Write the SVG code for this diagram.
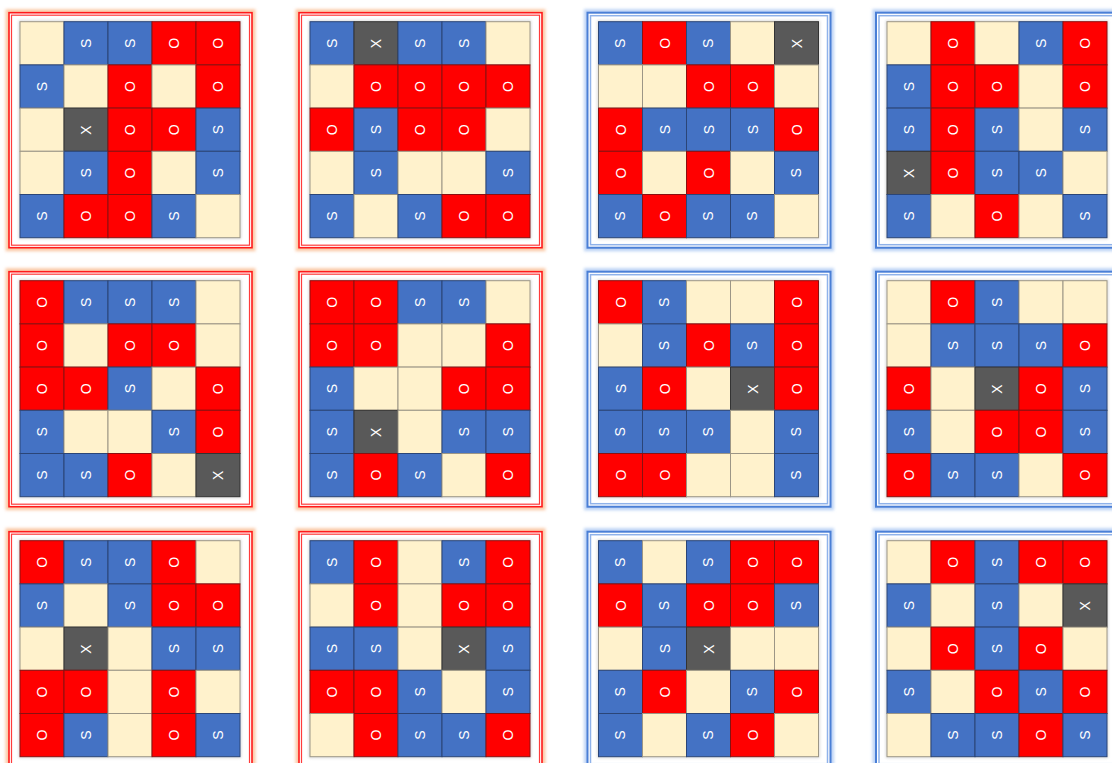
<svg xmlns="http://www.w3.org/2000/svg" width="1112" height="763" viewBox="0 0 1112 763">
<style>
.e{fill:#fff2cc;stroke:#9c9686;stroke-width:1}
.s{fill:#4472c4;stroke:#2b4577;stroke-width:1}
.o{fill:#ff0000;stroke:#8a1010;stroke-width:1}
.x{fill:#595959;stroke:#333;stroke-width:1}
.t{font-family:"Liberation Sans",Arial,sans-serif;font-size:14px;fill:#fff;text-anchor:middle;dominant-baseline:central;transform-box:fill-box;transform-origin:center;transform:rotate(-90deg)}
.glowR{fill:none;stroke:#fbc9a6;stroke-width:7;filter:url(#blur)}
.glowB{fill:none;stroke:#bcd3f5;stroke-width:7;filter:url(#blur)}
.fr1{fill:#fff;stroke:#ff1a1a;stroke-width:1.6}
.fr2{fill:none;stroke:#ff3b3b;stroke-width:1.2}
.fb1{fill:#fff;stroke:#4a7fd6;stroke-width:2}
.fb2{fill:none;stroke:#8fb2ea;stroke-width:1.5}
.sh{fill:none;stroke:#ccc;stroke-width:2;filter:url(#blur)}
</style>
<defs>
<filter id="blur" x="-10%" y="-10%" width="120%" height="120%"><feGaussianBlur stdDeviation="1.8"/></filter>
</defs>
<rect width="1112" height="763" fill="#fff"/>
<g id="connectors"/>

<g id="board-1" transform="translate(20,21.7)">
<rect class="glowR" x="-11" y="-9" width="243" height="235"/><rect class="fr1" x="-11" y="-9" width="243" height="235"/><rect class="fr2" x="-8.5" y="-6.5" width="238" height="230"/><rect class="sh" x="0" y="0" width="220" height="216"/>
<rect class="e" x="0" y="0" width="44" height="43.2"/>
<rect class="s" x="44" y="0" width="44" height="43.2"/><text class="t" x="66" y="21.6">S</text>
<rect class="s" x="88" y="0" width="44" height="43.2"/><text class="t" x="110" y="21.6">S</text>
<rect class="o" x="132" y="0" width="44" height="43.2"/><text class="t" x="154" y="21.6">O</text>
<rect class="o" x="176" y="0" width="44" height="43.2"/><text class="t" x="198" y="21.6">O</text>
<rect class="s" x="0" y="43.2" width="44" height="43.2"/><text class="t" x="22" y="64.8">S</text>
<rect class="e" x="44" y="43.2" width="44" height="43.2"/>
<rect class="o" x="88" y="43.2" width="44" height="43.2"/><text class="t" x="110" y="64.8">O</text>
<rect class="e" x="132" y="43.2" width="44" height="43.2"/>
<rect class="o" x="176" y="43.2" width="44" height="43.2"/><text class="t" x="198" y="64.8">O</text>
<rect class="e" x="0" y="86.4" width="44" height="43.2"/>
<rect class="x" x="44" y="86.4" width="44" height="43.2"/><text class="t" x="66" y="108">X</text>
<rect class="o" x="88" y="86.4" width="44" height="43.2"/><text class="t" x="110" y="108">O</text>
<rect class="o" x="132" y="86.4" width="44" height="43.2"/><text class="t" x="154" y="108">O</text>
<rect class="s" x="176" y="86.4" width="44" height="43.2"/><text class="t" x="198" y="108">S</text>
<rect class="e" x="0" y="129.6" width="44" height="43.2"/>
<rect class="s" x="44" y="129.6" width="44" height="43.2"/><text class="t" x="66" y="151.2">S</text>
<rect class="o" x="88" y="129.6" width="44" height="43.2"/><text class="t" x="110" y="151.2">O</text>
<rect class="e" x="132" y="129.6" width="44" height="43.2"/>
<rect class="s" x="176" y="129.6" width="44" height="43.2"/><text class="t" x="198" y="151.2">S</text>
<rect class="s" x="0" y="172.8" width="44" height="43.2"/><text class="t" x="22" y="194.4">S</text>
<rect class="o" x="44" y="172.8" width="44" height="43.2"/><text class="t" x="66" y="194.4">O</text>
<rect class="o" x="88" y="172.8" width="44" height="43.2"/><text class="t" x="110" y="194.4">O</text>
<rect class="s" x="132" y="172.8" width="44" height="43.2"/><text class="t" x="154" y="194.4">S</text>
<rect class="e" x="176" y="172.8" width="44" height="43.2"/>
</g>

<g id="board-2" transform="translate(310,21.7)">
<rect class="glowR" x="-11" y="-9" width="243" height="235"/><rect class="fr1" x="-11" y="-9" width="243" height="235"/><rect class="fr2" x="-8.5" y="-6.5" width="238" height="230"/><rect class="sh" x="0" y="0" width="220" height="216"/>
<rect class="s" x="0" y="0" width="44" height="43.2"/><text class="t" x="22" y="21.6">S</text>
<rect class="x" x="44" y="0" width="44" height="43.2"/><text class="t" x="66" y="21.6">X</text>
<rect class="s" x="88" y="0" width="44" height="43.2"/><text class="t" x="110" y="21.6">S</text>
<rect class="s" x="132" y="0" width="44" height="43.2"/><text class="t" x="154" y="21.6">S</text>
<rect class="e" x="176" y="0" width="44" height="43.2"/>
<rect class="e" x="0" y="43.2" width="44" height="43.2"/>
<rect class="o" x="44" y="43.2" width="44" height="43.2"/><text class="t" x="66" y="64.8">O</text>
<rect class="o" x="88" y="43.2" width="44" height="43.2"/><text class="t" x="110" y="64.8">O</text>
<rect class="o" x="132" y="43.2" width="44" height="43.2"/><text class="t" x="154" y="64.8">O</text>
<rect class="o" x="176" y="43.2" width="44" height="43.2"/><text class="t" x="198" y="64.8">O</text>
<rect class="o" x="0" y="86.4" width="44" height="43.2"/><text class="t" x="22" y="108">O</text>
<rect class="s" x="44" y="86.4" width="44" height="43.2"/><text class="t" x="66" y="108">S</text>
<rect class="o" x="88" y="86.4" width="44" height="43.2"/><text class="t" x="110" y="108">O</text>
<rect class="o" x="132" y="86.4" width="44" height="43.2"/><text class="t" x="154" y="108">O</text>
<rect class="e" x="176" y="86.4" width="44" height="43.2"/>
<rect class="e" x="0" y="129.6" width="44" height="43.2"/>
<rect class="s" x="44" y="129.6" width="44" height="43.2"/><text class="t" x="66" y="151.2">S</text>
<rect class="e" x="88" y="129.6" width="44" height="43.2"/>
<rect class="e" x="132" y="129.6" width="44" height="43.2"/>
<rect class="s" x="176" y="129.6" width="44" height="43.2"/><text class="t" x="198" y="151.2">S</text>
<rect class="s" x="0" y="172.8" width="44" height="43.2"/><text class="t" x="22" y="194.4">S</text>
<rect class="e" x="44" y="172.8" width="44" height="43.2"/>
<rect class="s" x="88" y="172.8" width="44" height="43.2"/><text class="t" x="110" y="194.4">S</text>
<rect class="o" x="132" y="172.8" width="44" height="43.2"/><text class="t" x="154" y="194.4">O</text>
<rect class="o" x="176" y="172.8" width="44" height="43.2"/><text class="t" x="198" y="194.4">O</text>
</g>

<g id="board-3" transform="translate(598.5,21.7)">
<rect class="glowB" x="-11" y="-9" width="243" height="235"/><rect class="fb1" x="-11" y="-9" width="243" height="235"/><rect class="fb2" x="-8" y="-6" width="237" height="229"/><rect class="sh" x="0" y="0" width="220" height="216"/>
<rect class="s" x="0" y="0" width="44" height="43.2"/><text class="t" x="22" y="21.6">S</text>
<rect class="o" x="44" y="0" width="44" height="43.2"/><text class="t" x="66" y="21.6">O</text>
<rect class="s" x="88" y="0" width="44" height="43.2"/><text class="t" x="110" y="21.6">S</text>
<rect class="e" x="132" y="0" width="44" height="43.2"/>
<rect class="x" x="176" y="0" width="44" height="43.2"/><text class="t" x="198" y="21.6">X</text>
<rect class="e" x="0" y="43.2" width="44" height="43.2"/>
<rect class="e" x="44" y="43.2" width="44" height="43.2"/>
<rect class="o" x="88" y="43.2" width="44" height="43.2"/><text class="t" x="110" y="64.8">O</text>
<rect class="o" x="132" y="43.2" width="44" height="43.2"/><text class="t" x="154" y="64.8">O</text>
<rect class="e" x="176" y="43.2" width="44" height="43.2"/>
<rect class="o" x="0" y="86.4" width="44" height="43.2"/><text class="t" x="22" y="108">O</text>
<rect class="s" x="44" y="86.4" width="44" height="43.2"/><text class="t" x="66" y="108">S</text>
<rect class="s" x="88" y="86.4" width="44" height="43.2"/><text class="t" x="110" y="108">S</text>
<rect class="s" x="132" y="86.4" width="44" height="43.2"/><text class="t" x="154" y="108">S</text>
<rect class="o" x="176" y="86.4" width="44" height="43.2"/><text class="t" x="198" y="108">O</text>
<rect class="o" x="0" y="129.6" width="44" height="43.2"/><text class="t" x="22" y="151.2">O</text>
<rect class="e" x="44" y="129.6" width="44" height="43.2"/>
<rect class="o" x="88" y="129.6" width="44" height="43.2"/><text class="t" x="110" y="151.2">O</text>
<rect class="e" x="132" y="129.6" width="44" height="43.2"/>
<rect class="s" x="176" y="129.6" width="44" height="43.2"/><text class="t" x="198" y="151.2">S</text>
<rect class="s" x="0" y="172.8" width="44" height="43.2"/><text class="t" x="22" y="194.4">S</text>
<rect class="o" x="44" y="172.8" width="44" height="43.2"/><text class="t" x="66" y="194.4">O</text>
<rect class="s" x="88" y="172.8" width="44" height="43.2"/><text class="t" x="110" y="194.4">S</text>
<rect class="s" x="132" y="172.8" width="44" height="43.2"/><text class="t" x="154" y="194.4">S</text>
<rect class="e" x="176" y="172.8" width="44" height="43.2"/>
</g>

<g id="board-4" transform="translate(887,21.7)">
<rect class="glowB" x="-11" y="-9" width="243" height="235"/><rect class="fb1" x="-11" y="-9" width="243" height="235"/><rect class="fb2" x="-8" y="-6" width="237" height="229"/><rect class="sh" x="0" y="0" width="220" height="216"/>
<rect class="e" x="0" y="0" width="44" height="43.2"/>
<rect class="o" x="44" y="0" width="44" height="43.2"/><text class="t" x="66" y="21.6">O</text>
<rect class="e" x="88" y="0" width="44" height="43.2"/>
<rect class="s" x="132" y="0" width="44" height="43.2"/><text class="t" x="154" y="21.6">S</text>
<rect class="o" x="176" y="0" width="44" height="43.2"/><text class="t" x="198" y="21.6">O</text>
<rect class="s" x="0" y="43.2" width="44" height="43.2"/><text class="t" x="22" y="64.8">S</text>
<rect class="o" x="44" y="43.2" width="44" height="43.2"/><text class="t" x="66" y="64.8">O</text>
<rect class="o" x="88" y="43.2" width="44" height="43.2"/><text class="t" x="110" y="64.8">O</text>
<rect class="e" x="132" y="43.2" width="44" height="43.2"/>
<rect class="o" x="176" y="43.2" width="44" height="43.2"/><text class="t" x="198" y="64.8">O</text>
<rect class="s" x="0" y="86.4" width="44" height="43.2"/><text class="t" x="22" y="108">S</text>
<rect class="o" x="44" y="86.4" width="44" height="43.2"/><text class="t" x="66" y="108">O</text>
<rect class="s" x="88" y="86.4" width="44" height="43.2"/><text class="t" x="110" y="108">S</text>
<rect class="e" x="132" y="86.4" width="44" height="43.2"/>
<rect class="s" x="176" y="86.4" width="44" height="43.2"/><text class="t" x="198" y="108">S</text>
<rect class="x" x="0" y="129.6" width="44" height="43.2"/><text class="t" x="22" y="151.2">X</text>
<rect class="o" x="44" y="129.6" width="44" height="43.2"/><text class="t" x="66" y="151.2">O</text>
<rect class="s" x="88" y="129.6" width="44" height="43.2"/><text class="t" x="110" y="151.2">S</text>
<rect class="s" x="132" y="129.6" width="44" height="43.2"/><text class="t" x="154" y="151.2">S</text>
<rect class="e" x="176" y="129.6" width="44" height="43.2"/>
<rect class="s" x="0" y="172.8" width="44" height="43.2"/><text class="t" x="22" y="194.4">S</text>
<rect class="e" x="44" y="172.8" width="44" height="43.2"/>
<rect class="o" x="88" y="172.8" width="44" height="43.2"/><text class="t" x="110" y="194.4">O</text>
<rect class="e" x="132" y="172.8" width="44" height="43.2"/>
<rect class="s" x="176" y="172.8" width="44" height="43.2"/><text class="t" x="198" y="194.4">S</text>
</g>

<g id="board-5" transform="translate(20,280.7)">
<rect class="glowR" x="-11" y="-9" width="243" height="235"/><rect class="fr1" x="-11" y="-9" width="243" height="235"/><rect class="fr2" x="-8.5" y="-6.5" width="238" height="230"/><rect class="sh" x="0" y="0" width="220" height="216"/>
<rect class="o" x="0" y="0" width="44" height="43.2"/><text class="t" x="22" y="21.6">O</text>
<rect class="s" x="44" y="0" width="44" height="43.2"/><text class="t" x="66" y="21.6">S</text>
<rect class="s" x="88" y="0" width="44" height="43.2"/><text class="t" x="110" y="21.6">S</text>
<rect class="s" x="132" y="0" width="44" height="43.2"/><text class="t" x="154" y="21.6">S</text>
<rect class="e" x="176" y="0" width="44" height="43.2"/>
<rect class="o" x="0" y="43.2" width="44" height="43.2"/><text class="t" x="22" y="64.8">O</text>
<rect class="e" x="44" y="43.2" width="44" height="43.2"/>
<rect class="o" x="88" y="43.2" width="44" height="43.2"/><text class="t" x="110" y="64.8">O</text>
<rect class="o" x="132" y="43.2" width="44" height="43.2"/><text class="t" x="154" y="64.8">O</text>
<rect class="e" x="176" y="43.2" width="44" height="43.2"/>
<rect class="o" x="0" y="86.4" width="44" height="43.2"/><text class="t" x="22" y="108">O</text>
<rect class="o" x="44" y="86.4" width="44" height="43.2"/><text class="t" x="66" y="108">O</text>
<rect class="s" x="88" y="86.4" width="44" height="43.2"/><text class="t" x="110" y="108">S</text>
<rect class="e" x="132" y="86.4" width="44" height="43.2"/>
<rect class="o" x="176" y="86.4" width="44" height="43.2"/><text class="t" x="198" y="108">O</text>
<rect class="s" x="0" y="129.6" width="44" height="43.2"/><text class="t" x="22" y="151.2">S</text>
<rect class="e" x="44" y="129.6" width="44" height="43.2"/>
<rect class="e" x="88" y="129.6" width="44" height="43.2"/>
<rect class="s" x="132" y="129.6" width="44" height="43.2"/><text class="t" x="154" y="151.2">S</text>
<rect class="o" x="176" y="129.6" width="44" height="43.2"/><text class="t" x="198" y="151.2">O</text>
<rect class="s" x="0" y="172.8" width="44" height="43.2"/><text class="t" x="22" y="194.4">S</text>
<rect class="s" x="44" y="172.8" width="44" height="43.2"/><text class="t" x="66" y="194.4">S</text>
<rect class="o" x="88" y="172.8" width="44" height="43.2"/><text class="t" x="110" y="194.4">O</text>
<rect class="e" x="132" y="172.8" width="44" height="43.2"/>
<rect class="x" x="176" y="172.8" width="44" height="43.2"/><text class="t" x="198" y="194.4">X</text>
</g>

<g id="board-6" transform="translate(310,280.7)">
<rect class="glowR" x="-11" y="-9" width="243" height="235"/><rect class="fr1" x="-11" y="-9" width="243" height="235"/><rect class="fr2" x="-8.5" y="-6.5" width="238" height="230"/><rect class="sh" x="0" y="0" width="220" height="216"/>
<rect class="o" x="0" y="0" width="44" height="43.2"/><text class="t" x="22" y="21.6">O</text>
<rect class="o" x="44" y="0" width="44" height="43.2"/><text class="t" x="66" y="21.6">O</text>
<rect class="s" x="88" y="0" width="44" height="43.2"/><text class="t" x="110" y="21.6">S</text>
<rect class="s" x="132" y="0" width="44" height="43.2"/><text class="t" x="154" y="21.6">S</text>
<rect class="e" x="176" y="0" width="44" height="43.2"/>
<rect class="o" x="0" y="43.2" width="44" height="43.2"/><text class="t" x="22" y="64.8">O</text>
<rect class="o" x="44" y="43.2" width="44" height="43.2"/><text class="t" x="66" y="64.8">O</text>
<rect class="e" x="88" y="43.2" width="44" height="43.2"/>
<rect class="e" x="132" y="43.2" width="44" height="43.2"/>
<rect class="o" x="176" y="43.2" width="44" height="43.2"/><text class="t" x="198" y="64.8">O</text>
<rect class="s" x="0" y="86.4" width="44" height="43.2"/><text class="t" x="22" y="108">S</text>
<rect class="e" x="44" y="86.4" width="44" height="43.2"/>
<rect class="e" x="88" y="86.4" width="44" height="43.2"/>
<rect class="o" x="132" y="86.4" width="44" height="43.2"/><text class="t" x="154" y="108">O</text>
<rect class="o" x="176" y="86.4" width="44" height="43.2"/><text class="t" x="198" y="108">O</text>
<rect class="s" x="0" y="129.6" width="44" height="43.2"/><text class="t" x="22" y="151.2">S</text>
<rect class="x" x="44" y="129.6" width="44" height="43.2"/><text class="t" x="66" y="151.2">X</text>
<rect class="e" x="88" y="129.6" width="44" height="43.2"/>
<rect class="s" x="132" y="129.6" width="44" height="43.2"/><text class="t" x="154" y="151.2">S</text>
<rect class="s" x="176" y="129.6" width="44" height="43.2"/><text class="t" x="198" y="151.2">S</text>
<rect class="s" x="0" y="172.8" width="44" height="43.2"/><text class="t" x="22" y="194.4">S</text>
<rect class="o" x="44" y="172.8" width="44" height="43.2"/><text class="t" x="66" y="194.4">O</text>
<rect class="s" x="88" y="172.8" width="44" height="43.2"/><text class="t" x="110" y="194.4">S</text>
<rect class="e" x="132" y="172.8" width="44" height="43.2"/>
<rect class="o" x="176" y="172.8" width="44" height="43.2"/><text class="t" x="198" y="194.4">O</text>
</g>

<g id="board-7" transform="translate(598.5,280.7)">
<rect class="glowB" x="-11" y="-9" width="243" height="235"/><rect class="fb1" x="-11" y="-9" width="243" height="235"/><rect class="fb2" x="-8" y="-6" width="237" height="229"/><rect class="sh" x="0" y="0" width="220" height="216"/>
<rect class="o" x="0" y="0" width="44" height="43.2"/><text class="t" x="22" y="21.6">O</text>
<rect class="s" x="44" y="0" width="44" height="43.2"/><text class="t" x="66" y="21.6">S</text>
<rect class="e" x="88" y="0" width="44" height="43.2"/>
<rect class="e" x="132" y="0" width="44" height="43.2"/>
<rect class="o" x="176" y="0" width="44" height="43.2"/><text class="t" x="198" y="21.6">O</text>
<rect class="e" x="0" y="43.2" width="44" height="43.2"/>
<rect class="s" x="44" y="43.2" width="44" height="43.2"/><text class="t" x="66" y="64.8">S</text>
<rect class="o" x="88" y="43.2" width="44" height="43.2"/><text class="t" x="110" y="64.8">O</text>
<rect class="s" x="132" y="43.2" width="44" height="43.2"/><text class="t" x="154" y="64.8">S</text>
<rect class="o" x="176" y="43.2" width="44" height="43.2"/><text class="t" x="198" y="64.8">O</text>
<rect class="s" x="0" y="86.4" width="44" height="43.2"/><text class="t" x="22" y="108">S</text>
<rect class="o" x="44" y="86.4" width="44" height="43.2"/><text class="t" x="66" y="108">O</text>
<rect class="e" x="88" y="86.4" width="44" height="43.2"/>
<rect class="x" x="132" y="86.4" width="44" height="43.2"/><text class="t" x="154" y="108">X</text>
<rect class="o" x="176" y="86.4" width="44" height="43.2"/><text class="t" x="198" y="108">O</text>
<rect class="s" x="0" y="129.6" width="44" height="43.2"/><text class="t" x="22" y="151.2">S</text>
<rect class="s" x="44" y="129.6" width="44" height="43.2"/><text class="t" x="66" y="151.2">S</text>
<rect class="s" x="88" y="129.6" width="44" height="43.2"/><text class="t" x="110" y="151.2">S</text>
<rect class="e" x="132" y="129.6" width="44" height="43.2"/>
<rect class="s" x="176" y="129.6" width="44" height="43.2"/><text class="t" x="198" y="151.2">S</text>
<rect class="o" x="0" y="172.8" width="44" height="43.2"/><text class="t" x="22" y="194.4">O</text>
<rect class="o" x="44" y="172.8" width="44" height="43.2"/><text class="t" x="66" y="194.4">O</text>
<rect class="e" x="88" y="172.8" width="44" height="43.2"/>
<rect class="e" x="132" y="172.8" width="44" height="43.2"/>
<rect class="s" x="176" y="172.8" width="44" height="43.2"/><text class="t" x="198" y="194.4">S</text>
</g>

<g id="board-8" transform="translate(887,280.7)">
<rect class="glowB" x="-11" y="-9" width="243" height="235"/><rect class="fb1" x="-11" y="-9" width="243" height="235"/><rect class="fb2" x="-8" y="-6" width="237" height="229"/><rect class="sh" x="0" y="0" width="220" height="216"/>
<rect class="e" x="0" y="0" width="44" height="43.2"/>
<rect class="o" x="44" y="0" width="44" height="43.2"/><text class="t" x="66" y="21.6">O</text>
<rect class="s" x="88" y="0" width="44" height="43.2"/><text class="t" x="110" y="21.6">S</text>
<rect class="e" x="132" y="0" width="44" height="43.2"/>
<rect class="e" x="176" y="0" width="44" height="43.2"/>
<rect class="e" x="0" y="43.2" width="44" height="43.2"/>
<rect class="s" x="44" y="43.2" width="44" height="43.2"/><text class="t" x="66" y="64.8">S</text>
<rect class="s" x="88" y="43.2" width="44" height="43.2"/><text class="t" x="110" y="64.8">S</text>
<rect class="s" x="132" y="43.2" width="44" height="43.2"/><text class="t" x="154" y="64.8">S</text>
<rect class="o" x="176" y="43.2" width="44" height="43.2"/><text class="t" x="198" y="64.8">O</text>
<rect class="o" x="0" y="86.4" width="44" height="43.2"/><text class="t" x="22" y="108">O</text>
<rect class="e" x="44" y="86.4" width="44" height="43.2"/>
<rect class="x" x="88" y="86.4" width="44" height="43.2"/><text class="t" x="110" y="108">X</text>
<rect class="o" x="132" y="86.4" width="44" height="43.2"/><text class="t" x="154" y="108">O</text>
<rect class="s" x="176" y="86.4" width="44" height="43.2"/><text class="t" x="198" y="108">S</text>
<rect class="s" x="0" y="129.6" width="44" height="43.2"/><text class="t" x="22" y="151.2">S</text>
<rect class="e" x="44" y="129.6" width="44" height="43.2"/>
<rect class="o" x="88" y="129.6" width="44" height="43.2"/><text class="t" x="110" y="151.2">O</text>
<rect class="o" x="132" y="129.6" width="44" height="43.2"/><text class="t" x="154" y="151.2">O</text>
<rect class="s" x="176" y="129.6" width="44" height="43.2"/><text class="t" x="198" y="151.2">S</text>
<rect class="o" x="0" y="172.8" width="44" height="43.2"/><text class="t" x="22" y="194.4">O</text>
<rect class="s" x="44" y="172.8" width="44" height="43.2"/><text class="t" x="66" y="194.4">S</text>
<rect class="s" x="88" y="172.8" width="44" height="43.2"/><text class="t" x="110" y="194.4">S</text>
<rect class="e" x="132" y="172.8" width="44" height="43.2"/>
<rect class="o" x="176" y="172.8" width="44" height="43.2"/><text class="t" x="198" y="194.4">O</text>
</g>

<g id="board-9" transform="translate(20,540.7)">
<rect class="glowR" x="-11" y="-9" width="243" height="235"/><rect class="fr1" x="-11" y="-9" width="243" height="235"/><rect class="fr2" x="-8.5" y="-6.5" width="238" height="230"/><rect class="sh" x="0" y="0" width="220" height="216"/>
<rect class="o" x="0" y="0" width="44" height="43.2"/><text class="t" x="22" y="21.6">O</text>
<rect class="s" x="44" y="0" width="44" height="43.2"/><text class="t" x="66" y="21.6">S</text>
<rect class="s" x="88" y="0" width="44" height="43.2"/><text class="t" x="110" y="21.6">S</text>
<rect class="o" x="132" y="0" width="44" height="43.2"/><text class="t" x="154" y="21.6">O</text>
<rect class="e" x="176" y="0" width="44" height="43.2"/>
<rect class="s" x="0" y="43.2" width="44" height="43.2"/><text class="t" x="22" y="64.8">S</text>
<rect class="e" x="44" y="43.2" width="44" height="43.2"/>
<rect class="s" x="88" y="43.2" width="44" height="43.2"/><text class="t" x="110" y="64.8">S</text>
<rect class="o" x="132" y="43.2" width="44" height="43.2"/><text class="t" x="154" y="64.8">O</text>
<rect class="o" x="176" y="43.2" width="44" height="43.2"/><text class="t" x="198" y="64.8">O</text>
<rect class="e" x="0" y="86.4" width="44" height="43.2"/>
<rect class="x" x="44" y="86.4" width="44" height="43.2"/><text class="t" x="66" y="108">X</text>
<rect class="e" x="88" y="86.4" width="44" height="43.2"/>
<rect class="s" x="132" y="86.4" width="44" height="43.2"/><text class="t" x="154" y="108">S</text>
<rect class="s" x="176" y="86.4" width="44" height="43.2"/><text class="t" x="198" y="108">S</text>
<rect class="o" x="0" y="129.6" width="44" height="43.2"/><text class="t" x="22" y="151.2">O</text>
<rect class="o" x="44" y="129.6" width="44" height="43.2"/><text class="t" x="66" y="151.2">O</text>
<rect class="e" x="88" y="129.6" width="44" height="43.2"/>
<rect class="o" x="132" y="129.6" width="44" height="43.2"/><text class="t" x="154" y="151.2">O</text>
<rect class="e" x="176" y="129.6" width="44" height="43.2"/>
<rect class="o" x="0" y="172.8" width="44" height="43.2"/><text class="t" x="22" y="194.4">O</text>
<rect class="s" x="44" y="172.8" width="44" height="43.2"/><text class="t" x="66" y="194.4">S</text>
<rect class="e" x="88" y="172.8" width="44" height="43.2"/>
<rect class="o" x="132" y="172.8" width="44" height="43.2"/><text class="t" x="154" y="194.4">O</text>
<rect class="s" x="176" y="172.8" width="44" height="43.2"/><text class="t" x="198" y="194.4">S</text>
</g>

<g id="board-10" transform="translate(310,540.7)">
<rect class="glowR" x="-11" y="-9" width="243" height="235"/><rect class="fr1" x="-11" y="-9" width="243" height="235"/><rect class="fr2" x="-8.5" y="-6.5" width="238" height="230"/><rect class="sh" x="0" y="0" width="220" height="216"/>
<rect class="s" x="0" y="0" width="44" height="43.2"/><text class="t" x="22" y="21.6">S</text>
<rect class="o" x="44" y="0" width="44" height="43.2"/><text class="t" x="66" y="21.6">O</text>
<rect class="e" x="88" y="0" width="44" height="43.2"/>
<rect class="s" x="132" y="0" width="44" height="43.2"/><text class="t" x="154" y="21.6">S</text>
<rect class="o" x="176" y="0" width="44" height="43.2"/><text class="t" x="198" y="21.6">O</text>
<rect class="e" x="0" y="43.2" width="44" height="43.2"/>
<rect class="o" x="44" y="43.2" width="44" height="43.2"/><text class="t" x="66" y="64.8">O</text>
<rect class="e" x="88" y="43.2" width="44" height="43.2"/>
<rect class="o" x="132" y="43.2" width="44" height="43.2"/><text class="t" x="154" y="64.8">O</text>
<rect class="o" x="176" y="43.2" width="44" height="43.2"/><text class="t" x="198" y="64.8">O</text>
<rect class="s" x="0" y="86.4" width="44" height="43.2"/><text class="t" x="22" y="108">S</text>
<rect class="s" x="44" y="86.4" width="44" height="43.2"/><text class="t" x="66" y="108">S</text>
<rect class="e" x="88" y="86.4" width="44" height="43.2"/>
<rect class="x" x="132" y="86.4" width="44" height="43.2"/><text class="t" x="154" y="108">X</text>
<rect class="s" x="176" y="86.4" width="44" height="43.2"/><text class="t" x="198" y="108">S</text>
<rect class="o" x="0" y="129.6" width="44" height="43.2"/><text class="t" x="22" y="151.2">O</text>
<rect class="o" x="44" y="129.6" width="44" height="43.2"/><text class="t" x="66" y="151.2">O</text>
<rect class="s" x="88" y="129.6" width="44" height="43.2"/><text class="t" x="110" y="151.2">S</text>
<rect class="e" x="132" y="129.6" width="44" height="43.2"/>
<rect class="s" x="176" y="129.6" width="44" height="43.2"/><text class="t" x="198" y="151.2">S</text>
<rect class="e" x="0" y="172.8" width="44" height="43.2"/>
<rect class="o" x="44" y="172.8" width="44" height="43.2"/><text class="t" x="66" y="194.4">O</text>
<rect class="s" x="88" y="172.8" width="44" height="43.2"/><text class="t" x="110" y="194.4">S</text>
<rect class="s" x="132" y="172.8" width="44" height="43.2"/><text class="t" x="154" y="194.4">S</text>
<rect class="o" x="176" y="172.8" width="44" height="43.2"/><text class="t" x="198" y="194.4">O</text>
</g>

<g id="board-11" transform="translate(598.5,540.7)">
<rect class="glowB" x="-11" y="-9" width="243" height="235"/><rect class="fb1" x="-11" y="-9" width="243" height="235"/><rect class="fb2" x="-8" y="-6" width="237" height="229"/><rect class="sh" x="0" y="0" width="220" height="216"/>
<rect class="s" x="0" y="0" width="44" height="43.2"/><text class="t" x="22" y="21.6">S</text>
<rect class="e" x="44" y="0" width="44" height="43.2"/>
<rect class="s" x="88" y="0" width="44" height="43.2"/><text class="t" x="110" y="21.6">S</text>
<rect class="o" x="132" y="0" width="44" height="43.2"/><text class="t" x="154" y="21.6">O</text>
<rect class="o" x="176" y="0" width="44" height="43.2"/><text class="t" x="198" y="21.6">O</text>
<rect class="o" x="0" y="43.2" width="44" height="43.2"/><text class="t" x="22" y="64.8">O</text>
<rect class="s" x="44" y="43.2" width="44" height="43.2"/><text class="t" x="66" y="64.8">S</text>
<rect class="o" x="88" y="43.2" width="44" height="43.2"/><text class="t" x="110" y="64.8">O</text>
<rect class="o" x="132" y="43.2" width="44" height="43.2"/><text class="t" x="154" y="64.8">O</text>
<rect class="s" x="176" y="43.2" width="44" height="43.2"/><text class="t" x="198" y="64.8">S</text>
<rect class="e" x="0" y="86.4" width="44" height="43.2"/>
<rect class="s" x="44" y="86.4" width="44" height="43.2"/><text class="t" x="66" y="108">S</text>
<rect class="x" x="88" y="86.4" width="44" height="43.2"/><text class="t" x="110" y="108">X</text>
<rect class="e" x="132" y="86.4" width="44" height="43.2"/>
<rect class="e" x="176" y="86.4" width="44" height="43.2"/>
<rect class="s" x="0" y="129.6" width="44" height="43.2"/><text class="t" x="22" y="151.2">S</text>
<rect class="o" x="44" y="129.6" width="44" height="43.2"/><text class="t" x="66" y="151.2">O</text>
<rect class="e" x="88" y="129.6" width="44" height="43.2"/>
<rect class="s" x="132" y="129.6" width="44" height="43.2"/><text class="t" x="154" y="151.2">S</text>
<rect class="o" x="176" y="129.6" width="44" height="43.2"/><text class="t" x="198" y="151.2">O</text>
<rect class="s" x="0" y="172.8" width="44" height="43.2"/><text class="t" x="22" y="194.4">S</text>
<rect class="e" x="44" y="172.8" width="44" height="43.2"/>
<rect class="s" x="88" y="172.8" width="44" height="43.2"/><text class="t" x="110" y="194.4">S</text>
<rect class="o" x="132" y="172.8" width="44" height="43.2"/><text class="t" x="154" y="194.4">O</text>
<rect class="e" x="176" y="172.8" width="44" height="43.2"/>
</g>

<g id="board-12" transform="translate(887,540.7)">
<rect class="glowB" x="-11" y="-9" width="243" height="235"/><rect class="fb1" x="-11" y="-9" width="243" height="235"/><rect class="fb2" x="-8" y="-6" width="237" height="229"/><rect class="sh" x="0" y="0" width="220" height="216"/>
<rect class="e" x="0" y="0" width="44" height="43.2"/>
<rect class="o" x="44" y="0" width="44" height="43.2"/><text class="t" x="66" y="21.6">O</text>
<rect class="s" x="88" y="0" width="44" height="43.2"/><text class="t" x="110" y="21.6">S</text>
<rect class="o" x="132" y="0" width="44" height="43.2"/><text class="t" x="154" y="21.6">O</text>
<rect class="o" x="176" y="0" width="44" height="43.2"/><text class="t" x="198" y="21.6">O</text>
<rect class="s" x="0" y="43.2" width="44" height="43.2"/><text class="t" x="22" y="64.8">S</text>
<rect class="e" x="44" y="43.2" width="44" height="43.2"/>
<rect class="s" x="88" y="43.2" width="44" height="43.2"/><text class="t" x="110" y="64.8">S</text>
<rect class="e" x="132" y="43.2" width="44" height="43.2"/>
<rect class="x" x="176" y="43.2" width="44" height="43.2"/><text class="t" x="198" y="64.8">X</text>
<rect class="e" x="0" y="86.4" width="44" height="43.2"/>
<rect class="o" x="44" y="86.4" width="44" height="43.2"/><text class="t" x="66" y="108">O</text>
<rect class="s" x="88" y="86.4" width="44" height="43.2"/><text class="t" x="110" y="108">S</text>
<rect class="o" x="132" y="86.4" width="44" height="43.2"/><text class="t" x="154" y="108">O</text>
<rect class="e" x="176" y="86.4" width="44" height="43.2"/>
<rect class="s" x="0" y="129.6" width="44" height="43.2"/><text class="t" x="22" y="151.2">S</text>
<rect class="e" x="44" y="129.6" width="44" height="43.2"/>
<rect class="o" x="88" y="129.6" width="44" height="43.2"/><text class="t" x="110" y="151.2">O</text>
<rect class="s" x="132" y="129.6" width="44" height="43.2"/><text class="t" x="154" y="151.2">S</text>
<rect class="o" x="176" y="129.6" width="44" height="43.2"/><text class="t" x="198" y="151.2">O</text>
<rect class="e" x="0" y="172.8" width="44" height="43.2"/>
<rect class="s" x="44" y="172.8" width="44" height="43.2"/><text class="t" x="66" y="194.4">S</text>
<rect class="s" x="88" y="172.8" width="44" height="43.2"/><text class="t" x="110" y="194.4">S</text>
<rect class="o" x="132" y="172.8" width="44" height="43.2"/><text class="t" x="154" y="194.4">O</text>
<rect class="s" x="176" y="172.8" width="44" height="43.2"/><text class="t" x="198" y="194.4">S</text>
</g>
</svg>
